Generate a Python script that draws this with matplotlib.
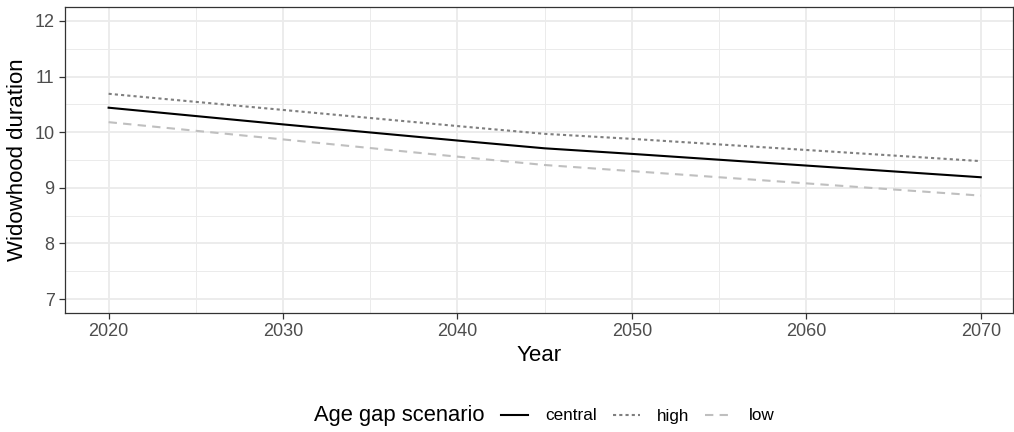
import matplotlib.pyplot as plt
from matplotlib.ticker import MultipleLocator
from matplotlib.offsetbox import HPacker

plt.rcParams['font.family'] = ['Liberation Sans', 'DejaVu Sans']

years = [2020, 2030, 2040, 2045, 2050, 2060, 2070]
central = [10.44, 10.14, 9.85, 9.71, 9.61, 9.40, 9.19]
high = [10.69, 10.40, 10.11, 9.97, 9.88, 9.68, 9.48]
low = [10.18, 9.87, 9.56, 9.41, 9.30, 9.08, 8.86]

fig = plt.figure(figsize=(10.14, 4.32), dpi=100)
ax = fig.add_axes([65 / 1014, 1 - 313 / 432, (1013 - 65) / 1014, (313 - 7) / 432])

ax.plot(years, central, color='black', lw=1.5, linestyle='-', label='central')
ax.plot(years, high, color='#7f7f7f', lw=1.5, linestyle=(0, (1.5, 1.5)), label='high')
ax.plot(years, low, color='#bfbfbf', lw=1.5, linestyle=(0, (4, 3)), label='low')

ax.set_xlim(2017.5, 2071.85)
ax.set_ylim(6.75, 12.25)
ax.xaxis.set_major_locator(MultipleLocator(10))
ax.xaxis.set_minor_locator(MultipleLocator(5))
ax.yaxis.set_major_locator(MultipleLocator(1))
ax.yaxis.set_minor_locator(MultipleLocator(0.5))

ax.grid(which='major', color='#ebebeb', lw=1.3)
ax.grid(which='minor', color='#ebebeb', lw=0.7)
ax.set_axisbelow(True)
for s in ax.spines.values():
    s.set_color('#333333')
    s.set_linewidth(0.9)
ax.tick_params(which='major', colors='#333333', length=4, width=0.9,
               labelsize=13, labelcolor='#4d4d4d', pad=3.5)
ax.tick_params(which='minor', length=0)

ax.set_xlabel('Year', fontsize=16, labelpad=3.5)
ax.set_ylabel('Widowhood duration', fontsize=16, labelpad=5)

leg = fig.legend(loc='center', bbox_to_anchor=(0.537, 1 - 416 / 432), ncol=3,
                 frameon=False, fontsize=12.3, title='Age gap scenario',
                 title_fontsize=15.8, handlelength=1.6, columnspacing=0.9,
                 handletextpad=1.0)
# put the title to the left of the entries, as ggplot does for bottom legends
title_box = leg._legend_title_box
handle_box = leg._legend_handle_box
leg._legend_box._children = [HPacker(children=[title_box, handle_box],
                                     pad=0, sep=12, align='center')]

fig.savefig('out.png', dpi=100)
